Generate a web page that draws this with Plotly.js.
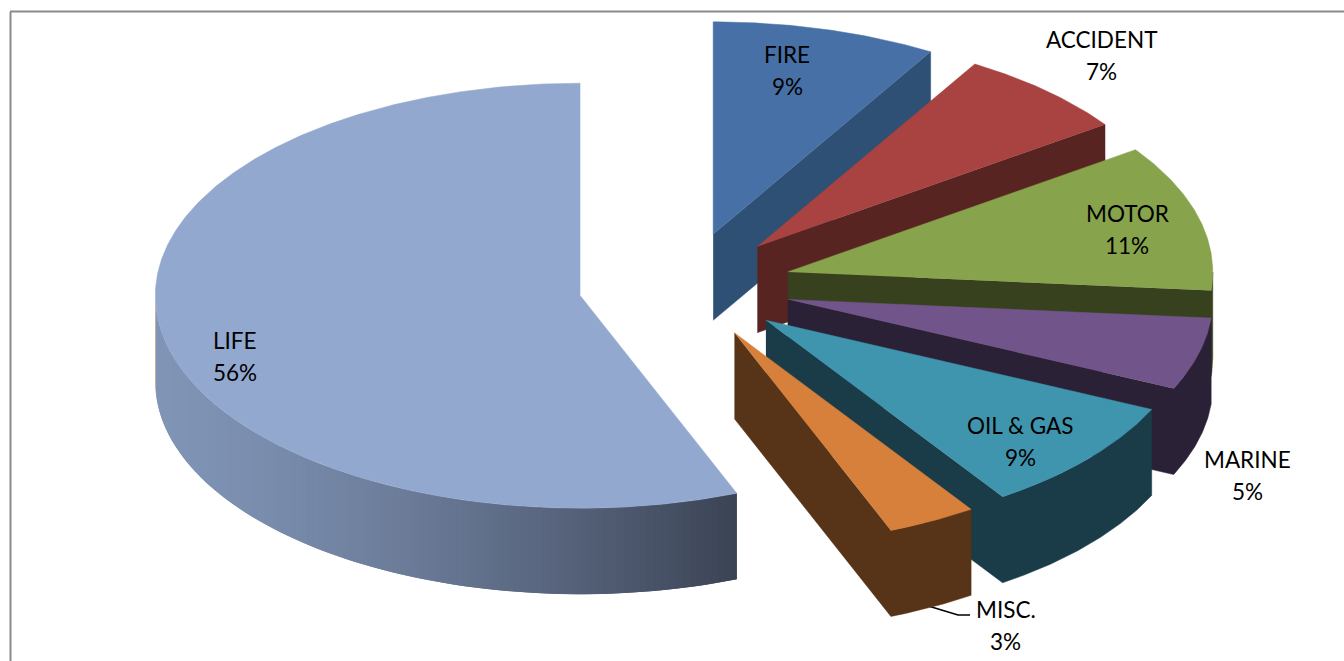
<!DOCTYPE html>
<html>
<head>
<meta charset="utf-8">
<script src="https://cdn.plot.ly/plotly-3.0.1.min.js"></script>
<style>html,body{margin:0;padding:0;background:#fff;overflow:hidden}#chart{width:1344px;height:661px}</style>
</head>
<body>
<div id="chart"></div>
<script>
// Premium share by line of insurance, clockwise from twelve o'clock.
const categories = ["FIRE", "ACCIDENT", "MOTOR", "MARINE", "OIL & GAS", "MISC.", "LIFE"];
const shares = [8.55, 6.7, 11.15, 5.49, 8.71, 3.4, 56.0];
const topColors = ["#4771a6", "#a84341", "#87a34c", "#71558a", "#3f95ad", "#d6803b", "#93a8cf"];
const sideColors = ["#2d5074", "#582421", "#38411d", "#2b2137", "#1a3c48", "#573317", "#8094b6"];
const labelX = [787, 1101.5, 1127, 1247, 1020, 1005.5, 235];
const labelY = [70, 55, 229, 475, 441, 625, 356];

// Projection of the tilted, exploded pie onto the page.
const centre = {x: 684.9, y: 285.7};
const radiusX = 425, radiusY = 212.5, thickness = 86, explode = 106.5;
const lineGap = 16;
const rad = d => d * Math.PI / 180;

function rim(apex, deg, drop) {
  return [apex.x + radiusX * Math.sin(rad(deg)), apex.y - radiusY * Math.cos(rad(deg)) + drop];
}
function arc(apex, from, to, drop) {
  const n = Math.max(2, Math.ceil(Math.abs(to - from) * 2));
  const pts = [];
  for (let i = 0; i <= n; i++) pts.push(rim(apex, from + (to - from) * i / n, drop));
  return pts;
}
function poly(pts, color, width) {
  return {
    type: "scatter", mode: "lines", hoverinfo: "skip", showlegend: false,
    x: pts.map(p => p[0]), y: pts.map(p => p[1]),
    fill: "toself", fillcolor: color,
    line: {color: color, width: width}
  };
}
function mix(a, b, t) {
  const c = [0, 2, 4].map(i => {
    const p = parseInt(a.substr(1 + i, 2), 16), q = parseInt(b.substr(1 + i, 2), 16);
    return Math.round(p + (q - p) * t);
  });
  return "rgb(" + c.join(",") + ")";
}

// Walk round the pie once to get each slice's angular span and offset apex.
let running = 0;
const slices = categories.map((name, i) => {
  const from = running * 3.6;
  running += shares[i];
  const to = running * 3.6, mid = (from + to) / 2;
  const apex = {
    x: centre.x + explode * Math.sin(rad(mid)),
    y: centre.y - explode * radiusY / radiusX * Math.cos(rad(mid))
  };
  return {name, i, from, to, apex};
});

// Far slices first so nearer ones paint over them.
const paintOrder = [6, 0, 1, 2, 3, 4, 5];
const traces = [];

// Leader from the small slice to its label, underneath the slices.
traces.push({
  type: "scatter", mode: "lines", hoverinfo: "skip", showlegend: false,
  x: [925, 958, 970], y: [605, 615, 615], line: {color: "#000", width: 1.5}
});

paintOrder.forEach(k => {
  const s = slices[k], a = s.apex, d = thickness;
  const lo = Math.max(s.from, 90), hi = Math.min(s.to, 270);
  const hasWall = hi > lo;
  const cutFaces = Math.sin(rad(s.to)) > 0.001;

  if (s.name === "LIFE") {
    // Wall of the large slice darkens from left to right. Each band runs
    // under the next one so no background shows between them.
    for (let t = hi; t > lo; t -= 1) {
      const u = Math.max(t - 2, lo);
      const midX = rim(a, t - 0.5, 0)[0];
      const f = Math.pow((midX - 156) / (737 - 156), 1.4);
      const band = arc(a, t, u, 0).concat(arc(a, u, t, d));
      traces.push(poly(band, mix("#8094b6", "#3b4354", Math.min(f, 1)), 0));
    }
  } else if (cutFaces) {
    // Radial cut face and any visible outer wall, outlined as one shape.
    const e = rim(a, s.to, 0);
    let outline = [[a.x, a.y], e];
    if (hasWall) {
      outline = outline.concat(arc(a, hi, lo, 0), arc(a, lo, hi, d));
    } else {
      outline.push([e[0], e[1] + d]);
    }
    outline.push([a.x, a.y + d]);
    traces.push(poly(outline, sideColors[k], 0.5));
  }

  // Top face.
  const top = [[a.x, a.y]].concat(arc(a, s.from, s.to, 0));
  traces.push(poly(top, topColors[k], 0.5));
});

// Each label is two stacked lines: the category and its rounded share.
const labelLine = (x, y, text) => ({
  xref: "x", yref: "y", x, y, text,
  xanchor: "center", yanchor: "middle", showarrow: false, align: "center"
});
const annotations = [];
slices.forEach(s => {
  annotations.push(labelLine(labelX[s.i], labelY[s.i] - lineGap, s.name));
  annotations.push(labelLine(labelX[s.i], labelY[s.i] + lineGap, Math.round(shares[s.i]) + "%"));
});

const layout = {
  width: 1344, height: 661,
  margin: {l: 0, r: 0, t: 0, b: 0},
  paper_bgcolor: "#fff", plot_bgcolor: "#fff",
  showlegend: false,
  font: {family: "Lato, Carlito, sans-serif", size: 22.5, color: "#000"},
  xaxis: {range: [0, 1344], visible: false, fixedrange: true},
  yaxis: {range: [661, 0], visible: false, fixedrange: true},
  annotations,
  shapes: [
    {type: "line", xref: "x", yref: "y", x0: 10.5, y0: 12, x1: 10.5, y1: 661, line: {color: "#8a8a8a", width: 2}},
    {type: "line", xref: "x", yref: "y", x0: 10, y0: 11.5, x1: 1344, y1: 11.5, line: {color: "#8a8a8a", width: 2}}
  ]
};

Plotly.newPlot("chart", traces, layout, {staticPlot: true, displayModeBar: false});
</script>
</body>
</html>
